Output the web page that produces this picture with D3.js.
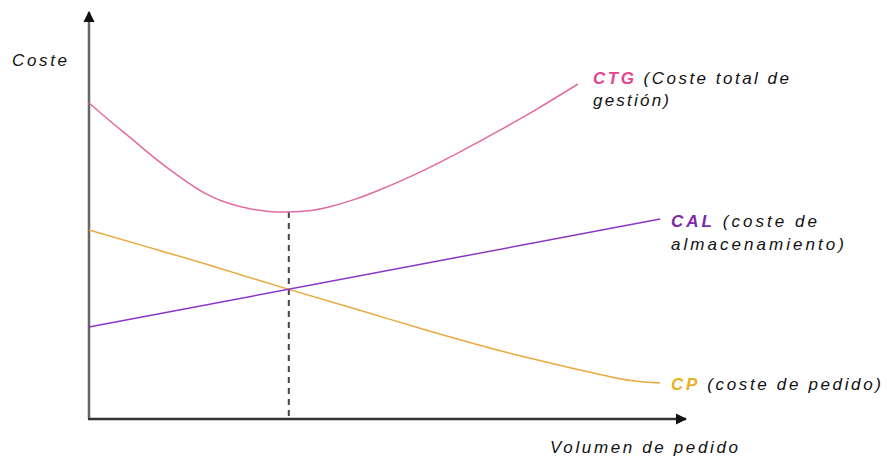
<!DOCTYPE html>
<html>
<head>
<meta charset="utf-8">
<script src="https://cdn.jsdelivr.net/npm/d3@7"></script>
<style>
  html, body { margin: 0; padding: 0; background: #fff; }
  svg { display: block; }
  text { font-family: "Liberation Sans", Arial, sans-serif; font-style: italic; font-size: 17px; fill: #111; }
</style>
</head>
<body>
<svg id="chart" width="887" height="460"></svg>
<script>
// Order volume (x) and cost (y) on a 0–100 relative scale
const ctgVolume = [0, 3.5, 7, 10, 13.5, 17, 20, 23.5, 27, 30, 33.3, 37, 40, 44.3, 48.5, 55, 62, 68.5, 75, 81.5];
const ctgCost   = [79, 74.5, 70.2, 66.4, 62.3, 58.6, 55.9, 53.8, 52.5, 51.9, 51.75, 52.15, 53, 54.9, 57.3, 61.6, 66.9, 72.2, 77.8, 83.75];

const calVolume = [0, 95.2];
const calCost   = [23, 50];

const cpVolume = [0, 10, 20, 33.3, 45, 55, 65, 72, 80, 85, 88, 91, 95.2];
const cpCost   = [47.25, 42.9, 38.5, 32.4, 27.25, 22.75, 18.5, 15.75, 12.9, 11.2, 10.2, 9.5, 9];

// Economic order quantity (minimum of total cost)
const optimumVolume = 33.3;

const axisTitles = { y: "Coste", x: "Volumen de pedido" };
const seriesKeys   = ["CTG", "CAL", "CP"];
const seriesNames  = [" (Coste total de", " (coste de", " (coste de pedido)"];
const seriesNames2 = ["gestión)", "almacenamiento)", null];
const seriesColors = ["#e2458f", "#7a2aa6", "#e8b020"];

const svg = d3.select("#chart");
const x = d3.scaleLinear().domain([0, 100]).range([89, 689]);
const y = d3.scaleLinear().domain([0, 100]).range([419, 19]);

const line = d3.line()
  .x(d => x(d[0]))
  .y(d => y(d[1]))
  .curve(d3.curveNatural);

const zip = (a, b) => a.map((v, i) => [v, b[i]]);
const ctgData = zip(ctgVolume, ctgCost);
const calData = zip(calVolume, calCost);
const cpData  = zip(cpVolume, cpCost);

// Arrowhead marker for the axes
svg.append("defs").append("marker")
  .attr("id", "arrow")
  .attr("viewBox", "0 0 10 10")
  .attr("refX", 9).attr("refY", 5)
  .attr("markerWidth", 4.5).attr("markerHeight", 4.5)
  .attr("markerUnits", "strokeWidth")
  .attr("orient", "auto")
  .append("path")
  .attr("d", "M0,0 L10,5 L0,10 Z")
  .attr("fill", "#111");

// Axes
svg.append("line")
  .attr("x1", x(0)).attr("y1", y(0))
  .attr("x2", x(0)).attr("y2", 12)
  .attr("stroke", "#666").attr("stroke-width", 2.5)
  .attr("marker-end", "url(#arrow)");
svg.append("line")
  .attr("x1", x(0) - 1).attr("y1", y(0))
  .attr("x2", 686).attr("y2", y(0))
  .attr("stroke", "#333").attr("stroke-width", 2.5)
  .attr("marker-end", "url(#arrow)");

// Dashed guide from the minimum of CTG down to the volume axis
const ctgMin = ctgData.find(d => d[0] === optimumVolume);
svg.append("line")
  .attr("x1", x(optimumVolume)).attr("y1", y(ctgMin[1]))
  .attr("x2", x(optimumVolume)).attr("y2", y(0))
  .attr("stroke", "#444").attr("stroke-width", 2)
  .attr("stroke-dasharray", "6,5");

// Cost curves
svg.append("path").datum(cpData).attr("d", line)
  .attr("fill", "none").attr("stroke", "#eaa93e").attr("stroke-width", 1.5);
svg.append("path").datum(calData).attr("d", line)
  .attr("fill", "none").attr("stroke", "#8a35c8").attr("stroke-width", 1.5);
svg.append("path").datum(ctgData).attr("d", line)
  .attr("fill", "none").attr("stroke", "#e26aa2").attr("stroke-width", 1.5);

// Text helper: wide, evenly spaced italic lettering
function label(xp, yp, width) {
  return svg.append("text")
    .attr("x", xp).attr("y", yp)
    .attr("textLength", width)
    .attr("lengthAdjust", "spacing");
}

// Axis titles
label(12, 66, 55).text(axisTitles.y);
label(550, 453, 188).text(axisTitles.x);

// Series labels: [x, first baseline, second baseline, first width, second width]
const labelBoxes = [
  [593, 84, 106, 196, 76],
  [671, 227, 250, 146, 173],
  [671, 390, null, 210, null]
];
seriesKeys.forEach((key, i) => {
  const [lx, ly, ly2, w1, w2] = labelBoxes[i];
  const t = label(lx, ly, w1);
  t.append("tspan").attr("font-weight", "bold").style("fill", seriesColors[i]).text(key);
  t.append("tspan").text(seriesNames[i]);
  if (seriesNames2[i]) label(lx, ly2, w2).text(seriesNames2[i]);
});
</script>
</body>
</html>
